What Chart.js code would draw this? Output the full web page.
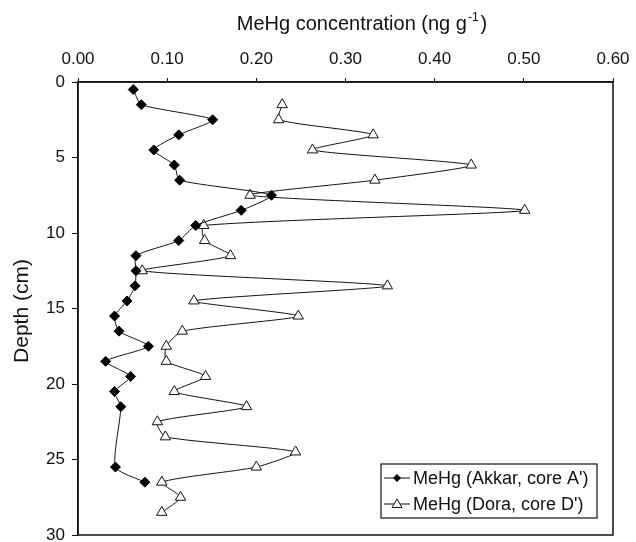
<!DOCTYPE html>
<html><head><meta charset="utf-8">
<script src="https://cdn.jsdelivr.net/npm/chart.js@4/dist/chart.umd.min.js"></script>
<style>html,body{margin:0;padding:0;background:#fff}#wrap{width:636px;height:542px}</style>
</head><body><div id="wrap"><canvas id="c" width="636" height="542"></canvas></div>
<script>
const akkarDepth = [0.5,1.5,2.5,3.5,4.5,5.5,6.5,7.5,8.5,9.5,10.5,11.5,12.5,13.5,14.5,15.5,16.5,17.5,18.5,19.5,20.5,21.5,25.5,26.5];
const akkarMeHg  = [0.062,0.071,0.151,0.113,0.085,0.108,0.114,0.217,0.183,0.132,0.113,0.065,0.065,0.064,0.055,0.041,0.046,0.079,0.031,0.059,0.041,0.048,0.042,0.075];
const doraDepth = [1.5,2.5,3.5,4.5,5.5,6.5,7.5,8.5,9.5,10.5,11.5,12.5,13.5,14.5,15.5,16.5,17.5,18.5,19.5,20.5,21.5,22.5,23.5,24.5,25.5,26.5,27.5,28.5];
const doraMeHg  = [0.229,0.225,0.331,0.263,0.441,0.333,0.193,0.501,0.141,0.142,0.171,0.072,0.347,0.130,0.247,0.117,0.099,0.099,0.143,0.108,0.189,0.089,0.098,0.244,0.200,0.094,0.115,0.094];
const seriesNames = ["MeHg (Akkar, core A')", "MeHg (Dora, core D')"];
const xTitle = "MeHg concentration (ng g";
const xTitleSup = "-1";
const yTitle = "Depth (cm)";

const FONT = "'Liberation Sans', Arial, sans-serif";
const toPts = (xs, ys) => xs.map((v, i) => ({x: v, y: ys[i]}));

const decor = {
  id: 'decor',
  afterDraw(chart) {
    const ctx = chart.ctx, a = chart.chartArea;
    ctx.save();
    ctx.strokeStyle = '#111'; ctx.lineWidth = 1.5;
    ctx.strokeRect(a.left, a.top, a.right - a.left, a.bottom - a.top);
    // x title with superscript
    ctx.fillStyle = '#111';
    ctx.textBaseline = 'alphabetic';
    ctx.font = '20px ' + FONT;
    const w1 = ctx.measureText(xTitle).width;
    ctx.font = '12px ' + FONT;
    const w2 = ctx.measureText(xTitleSup).width;
    ctx.font = '20px ' + FONT;
    const w3 = ctx.measureText(')').width;
    const total = w1 + w2 + 3 + w3;
    let x0 = 362 - total / 2;
    const by = 30;
    ctx.textAlign = 'left';
    ctx.fillText(xTitle, x0, by);
    ctx.font = '12px ' + FONT;
    ctx.fillText(xTitleSup, x0 + w1 + 1, by - 9);
    ctx.font = '20px ' + FONT;
    ctx.fillText(')', x0 + w1 + w2 + 3, by);
    // y title
    ctx.save();
    ctx.translate(22, 311);
    ctx.rotate(-Math.PI / 2);
    ctx.textAlign = 'center'; ctx.textBaseline = 'middle';
    ctx.font = '21px ' + FONT;
    ctx.fillText(yTitle, 0, 0);
    ctx.restore();
    // legend
    const lx = 381, ly = 464, lw = 216, lh = 54;
    ctx.fillStyle = '#fff';
    ctx.fillRect(lx, ly, lw, lh);
    ctx.strokeStyle = '#111'; ctx.lineWidth = 1.2;
    ctx.strokeRect(lx, ly, lw, lh);
    ctx.font = '18px ' + FONT;
    ctx.textAlign = 'left'; ctx.textBaseline = 'middle';
    const rows = [ly + 14, ly + 40];
    rows.forEach((ry, i) => {
      ctx.strokeStyle = '#111'; ctx.lineWidth = 1;
      ctx.beginPath(); ctx.moveTo(lx + 3, ry); ctx.lineTo(lx + 29, ry); ctx.stroke();
      const cx = lx + 16;
      if (i === 0) {
        ctx.fillStyle = '#000';
        ctx.beginPath();
        ctx.moveTo(cx, ry - 4); ctx.lineTo(cx + 4, ry); ctx.lineTo(cx, ry + 4); ctx.lineTo(cx - 4, ry); ctx.closePath();
        ctx.fill();
      } else {
        ctx.fillStyle = '#fff';
        ctx.beginPath();
        ctx.moveTo(cx, ry - 5); ctx.lineTo(cx + 5, ry + 3.5); ctx.lineTo(cx - 5, ry + 3.5); ctx.closePath();
        ctx.fill(); ctx.stroke();
      }
      ctx.fillStyle = '#111';
      ctx.fillText(seriesNames[i], lx + 32, ry + 1);
    });
    ctx.restore();
  }
};

new Chart(document.getElementById('c'), {
  type: 'scatter',
  data: {
    datasets: [
      { label: seriesNames[0], data: toPts(akkarMeHg, akkarDepth), showLine: true,
        borderColor: '#111', borderWidth: 1, tension: 0.2,
        pointStyle: 'rectRot', pointRadius: 5, pointBackgroundColor: '#000', pointBorderColor: '#000', pointBorderWidth: 1 },
      { label: seriesNames[1], data: toPts(doraMeHg, doraDepth), showLine: true,
        borderColor: '#111', borderWidth: 1, tension: 0.2,
        pointStyle: 'triangle', pointRadius: 6, pointBackgroundColor: '#fff', pointBorderColor: '#111', pointBorderWidth: 1 }
    ]
  },
  options: {
    responsive: false, animation: false,
    layout: { padding: { left: 0, right: 23, top: 0, bottom: 6 } },
    plugins: { legend: { display: false }, tooltip: { enabled: false } },
    scales: {
      x: {
        type: 'linear', position: 'top', min: 0, max: 0.6,
        afterFit(s) { s.height = 82; s.paddingLeft = 0; s.paddingRight = 0; },
        ticks: { stepSize: 0.1, color: '#111', font: { family: FONT, size: 17 }, padding: 8,
                 callback: v => v.toFixed(2) },
        grid: { drawOnChartArea: false, drawTicks: true, tickLength: 4, color: '#111' },
        border: { display: true, color: '#111', width: 1.5 }
      },
      y: {
        type: 'linear', reverse: true, min: 0, max: 30,
        afterFit(s) { s.width = 78; s.paddingTop = 0; s.paddingBottom = 0; },
        ticks: { stepSize: 5, color: '#111', font: { family: FONT, size: 17 }, padding: 7 },
        grid: { drawOnChartArea: false, drawTicks: true, tickLength: 6, color: '#111' },
        border: { display: true, color: '#111', width: 1.5 }
      }
    }
  },
  plugins: [decor]
});
</script></body></html>
